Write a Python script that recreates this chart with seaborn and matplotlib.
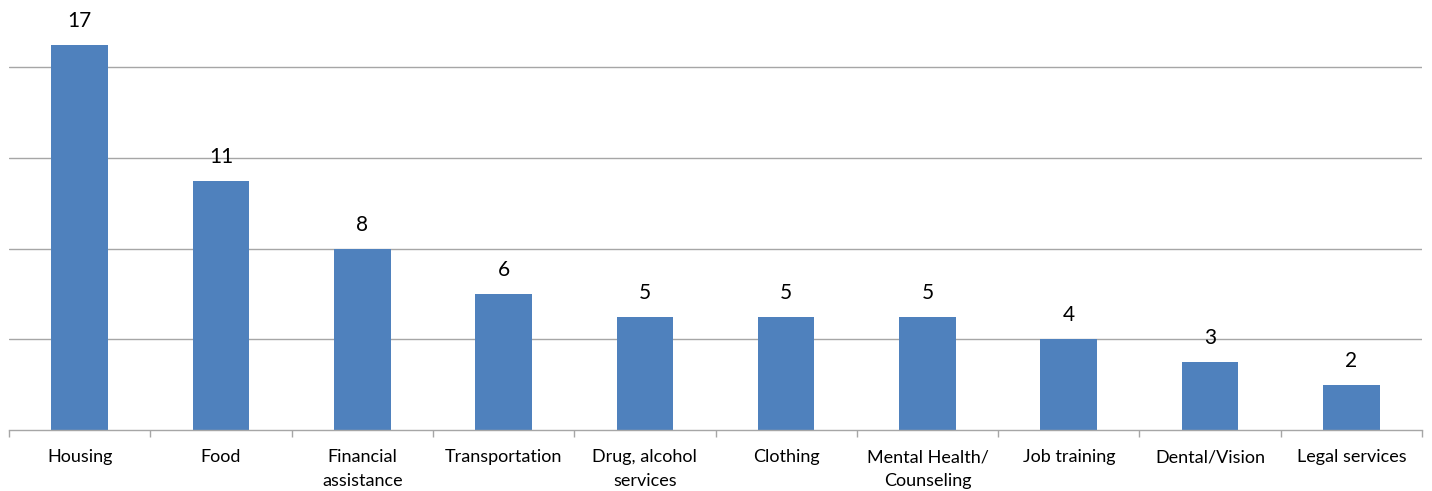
import matplotlib
matplotlib.use("Agg")
import matplotlib.pyplot as plt
import seaborn as sns
import pandas as pd
import numpy as np

categories = ["Housing", "Food", "Financial\nassistance", "Transportation",
              "Drug, alcohol\nservices", "Clothing", "Mental Health/\nCounseling",
              "Job training", "Dental/Vision", "Legal services"]
values = [17, 11, 8, 6, 5, 5, 5, 4, 3, 2]

sns.set_theme(style="white")
plt.rcParams['font.family'] = ['Lato', 'DejaVu Sans']

df = pd.DataFrame({"cat": categories, "val": values})

fig = plt.figure(figsize=(14.32, 4.91), dpi=100)
ax = fig.add_axes([9/1432, 61/491, (1422-9)/1432, (430-22)/491])
sns.barplot(data=df, x="cat", y="val", color="#4F81BD", saturation=1, width=0.4,
            linewidth=0, ax=ax)

ax.set_ylim(0, 18)
ax.set_xlim(-0.5, len(categories) - 0.5)
ax.set_yticks([4, 8, 12, 16])
ax.set_yticklabels([])
ax.yaxis.grid(True, color="#A6A6A6", linewidth=1)
ax.set_axisbelow(True)
ax.tick_params(axis="y", length=0)
for s in ["top", "right", "left"]:
    ax.spines[s].set_visible(False)
ax.spines["bottom"].set_color("#A6A6A6")
ax.spines["bottom"].set_linewidth(1)

ax.set_xlabel("")
ax.set_ylabel("")
ax.set_xticks(range(len(categories)))
ax.set_xticklabels(categories, fontsize=13, color="#000000", linespacing=1.55)
ax.tick_params(axis="x", which="major", length=0, pad=14)
ax.set_xticks(np.arange(-0.5, len(categories), 1.0), minor=True)
ax.tick_params(axis="x", which="minor", length=5, color="#A6A6A6", width=1, direction="out", bottom=True)

for c in ax.containers:
    ax.bar_label(c, labels=[str(v) for v in values], padding=10, fontsize=15, color="#000000")

fig.savefig("out.png", dpi=100)
